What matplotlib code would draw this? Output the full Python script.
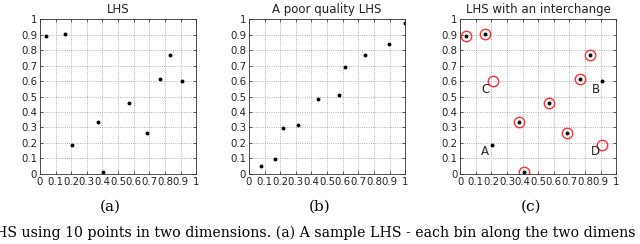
import matplotlib.pyplot as plt

# LHS sample (a)
lhs_x = [0.036, 0.16, 0.206, 0.374, 0.406, 0.572, 0.687, 0.77, 0.834, 0.909]
lhs_y = [0.888, 0.903, 0.185, 0.335, 0.013, 0.457, 0.266, 0.612, 0.766, 0.599]

# poor quality LHS (b)
poor_x = [0.079, 0.165, 0.216, 0.313, 0.445, 0.576, 0.617, 0.743, 0.899, 0.998]
poor_y = [0.054, 0.097, 0.296, 0.318, 0.483, 0.511, 0.689, 0.766, 0.839, 0.972]

# interchange (c): A and B swapped into C and D
circ_x = [0.036, 0.16, 0.374, 0.406, 0.572, 0.687, 0.77, 0.834, 0.21, 0.909]
circ_y = [0.888, 0.903, 0.335, 0.013, 0.457, 0.266, 0.612, 0.766, 0.599, 0.185]
lbl_text = ["A", "B", "C", "D"]
lbl_x = [0.16, 0.868, 0.16, 0.868]
lbl_y = [0.146, 0.547, 0.547, 0.146]

ticks = [0, 0.1, 0.2, 0.3, 0.4, 0.5, 0.6, 0.7, 0.8, 0.9, 1]
tick_labels = ["0", "0.1", "0.2", "0.3", "0.4", "0.5", "0.6", "0.7", "0.8", "0.9", "1"]

titles = ["LHS", "A poor quality LHS", "LHS with an interchange"]
subcaps = ["(a)", "(b)", "(c)"]
caption = "HS using 10 points in two dimensions. (a) A sample LHS - each bin along the two dimens"

fig = plt.figure(figsize=(6.4, 2.44), dpi=100)
lefts = [0.0625, 0.389, 0.719]
axes = []
for i, l in enumerate(lefts):
    ax = fig.add_axes([l, 0.287, 0.244, 0.635])
    ax.set_xlim(0, 1)
    ax.set_ylim(0, 1)
    ax.set_xticks(ticks)
    ax.set_yticks(ticks)
    ax.set_xticklabels(tick_labels, fontsize=7.3)
    ax.set_yticklabels(tick_labels, fontsize=7.3)
    ax.tick_params(direction='in', length=2.5, width=0.5, pad=2,
                   top=True, right=True, colors='#222222')
    ax.grid(True, linestyle=':', color='#999999', linewidth=0.6)
    for s in ax.spines.values():
        s.set_linewidth(0.6)
        s.set_color('#333333')
    ax.set_title(titles[i], fontsize=8.5, pad=4.5, color='#222222')
    axes.append(ax)

axes[0].plot(lhs_x, lhs_y, 'o', color='black', markersize=1.8)
axes[1].plot(poor_x, poor_y, 'o', color='black', markersize=1.8)
axes[2].plot(lhs_x, lhs_y, 'o', color='black', markersize=1.8)
axes[2].plot(circ_x, circ_y, 'o', markerfacecolor='none', markeredgecolor='#ff3030',
             markersize=7.5, markeredgewidth=1.0)
for t, x, y in zip(lbl_text, lbl_x, lbl_y):
    axes[2].text(x, y, t, fontsize=8.5, ha='center', va='center', color='#222222')

for i, l in enumerate(lefts):
    fig.text(l + 0.11, 0.152, subcaps[i], fontsize=11, ha='center', va='center',
             family='DejaVu Serif')
fig.text(-0.008, 0.045, caption, fontsize=10.15, ha='left', va='center',
         family='DejaVu Serif')

fig.savefig('out.png', dpi=100)
